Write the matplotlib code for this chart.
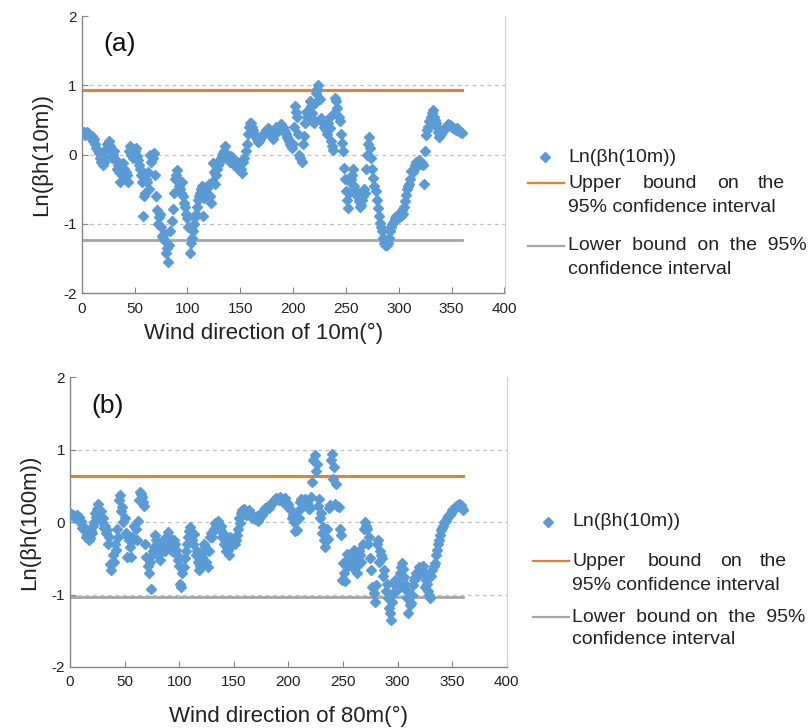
import matplotlib
matplotlib.use("Agg")
import matplotlib.pyplot as plt
from matplotlib.lines import Line2D

plt.rcParams['font.family'] = ['Liberation Sans', 'DejaVu Sans']
plt.rcParams['axes.unicode_minus'] = False

# ---------------- data ----------------
directions_even = list(range(0, 361, 2))
directions_odd = list(range(1, 360, 2))

ln_beta_10m_even = [
    0.33, 0.32, 0.30, 0.31, 0.28, 0.27, 0.22, 0.10, 0.02, -0.10,
    -0.15, -0.05, 0.15, 0.20, 0.05, 0.00, -0.08, -0.15, -0.40, -0.30,
    -0.20, -0.25, -0.40, 0.12, 0.08, 0.05, -0.02, -0.15, -0.30, -0.88,
    -0.55, -0.40, -0.50, -0.10, 0.02, -0.60, -1.00, -0.85, -1.18, -1.15,
    -1.42, -1.55, -1.10, -0.78, -0.35, -0.22, -0.45, -0.55, -0.60, -0.75,
    -0.92, -1.42, -1.20, -1.00, -0.85, -0.65, -0.55, -0.45, -0.62, -0.50,
    -0.43, -0.70, -0.12, -0.43, -0.20, -0.12, -0.05, 0.02, 0.12, -0.05,
    -0.10, -0.05, -0.15, -0.10, -0.20, -0.12, -0.27, -0.05, 0.15, 0.40,
    0.45, 0.35, 0.29, 0.22, 0.20, 0.25, 0.30, 0.35, 0.38, 0.30,
    0.25, 0.31, 0.40, 0.35, 0.42, 0.40, 0.32, 0.25, 0.20, 0.12,
    0.15, 0.70, 0.55, 0.00, -0.10, 0.27, 0.62, 0.50, 0.77, 0.60,
    0.45, 0.89, 1.01, 0.53, 0.45, 0.38, 0.30, 0.53, 0.20, 0.07,
    0.82, 0.67, 0.48, 0.17, -0.19, -0.53, -0.77, -0.40, -0.30, -0.45,
    -0.60, -0.67, -0.72, -0.60, -0.55, 0.00, 0.26, -0.05, -0.34, -0.53,
    -0.77, -0.98, -1.10, -1.28, -1.30, -1.28, -1.10, -1.00, -0.92, -0.90,
    -0.90, -0.88, -0.85, -0.67, -0.50, -0.43, -0.24, -0.20, -0.10, -0.15,
    -0.10, -0.12, -0.43, 0.29, 0.40, 0.55, 0.65, 0.50, 0.40, 0.26,
    0.30, 0.35, 0.38, 0.42, 0.43, 0.40, 0.38, 0.36, 0.35, 0.33,
    0.31,
]
ln_beta_10m_odd = [
    0.31, 0.29, 0.33, 0.27, 0.25, 0.20, 0.15, 0.05, -0.05, -0.02,
    -0.10, 0.08, 0.10, 0.12, -0.05, 0.05, -0.20, -0.25, -0.22, -0.12,
    -0.35, -0.30, 0.05, 0.00, -0.05, 0.10, -0.08, -0.20, -0.40, -0.60,
    -0.35, -0.25, 0.00, -0.05, -0.30, -0.80, -0.90, -1.05, -1.20, -1.25,
    -1.35, -1.30, -0.95, -0.55, -0.30, -0.35, -0.50, -0.40, -0.70, -0.85,
    -1.05, -1.28, -1.10, -0.90, -0.75, -0.60, -0.50, -0.88, -0.55, -0.48,
    -0.60, -0.40, -0.25, -0.30, -0.15, -0.08, 0.00, 0.05, 0.00, -0.08,
    -0.02, -0.10, -0.08, -0.12, -0.15, -0.20, -0.10, 0.05, 0.30, 0.45,
    0.40, 0.30, 0.25, 0.18, 0.22, 0.28, 0.32, 0.33, 0.34, 0.28,
    0.22, 0.36, 0.33, 0.38, 0.44, 0.36, 0.30, 0.22, 0.16, 0.10,
    0.40, 0.62, 0.30, -0.05, 0.15, 0.45, 0.55, 0.65, 0.70, 0.52,
    0.75, 0.95, 0.80, 0.48, 0.40, 0.35, 0.45, 0.38, 0.12, 0.60,
    0.78, 0.55, 0.30, 0.05, -0.35, -0.65, -0.55, -0.35, -0.20, -0.52,
    -0.55, -0.75, -0.65, -0.50, -0.20, 0.15, 0.10, -0.20, -0.45, -0.65,
    -0.88, -1.05, -1.20, -1.30, -1.31, -1.20, -1.05, -0.95, -0.88, -0.92,
    -0.87, -0.80, -0.75, -0.58, -0.45, -0.35, -0.25, -0.15, -0.12, -0.08,
    -0.13, -0.15, 0.05, 0.35, 0.48, 0.60, 0.55, 0.45, 0.32, 0.28,
    0.33, 0.36, 0.40, 0.44, 0.42, 0.39, 0.37, 0.38, 0.34, 0.32,
]

ln_beta_80m_even = [
    0.12, 0.10, 0.08, 0.10, 0.07, 0.02, -0.05, -0.12, -0.18, -0.22,
    -0.15, 0.00, 0.07, 0.25, 0.15, 0.05, -0.05, -0.11, -0.20, -0.66,
    -0.55, -0.39, -0.20, 0.37, 0.21, 0.05, -0.48, -0.25, -0.48, -0.25,
    -0.10, 0.02, 0.42, 0.35, 0.22, -0.48, -0.71, -0.92, -0.40, -0.18,
    -0.30, -0.52, -0.40, -0.30, -0.20, -0.14, -0.25, -0.34, -0.30, -0.45,
    -0.60, -0.89, -0.62, -0.40, -0.20, -0.07, -0.25, -0.16, -0.40, -0.66,
    -0.55, -0.43, -0.35, -0.62, -0.20, -0.21, -0.10, -0.05, 0.02, -0.05,
    -0.15, -0.25, -0.35, -0.46, -0.30, -0.23, -0.25, -0.10, -0.02, 0.16,
    0.14, 0.12, 0.16, 0.10, 0.08, 0.05, 0.02, 0.07, 0.10, 0.16,
    0.18, 0.20, 0.25, 0.28, 0.30, 0.32, 0.34, 0.32, 0.30, 0.28,
    0.25, 0.16, 0.10, -0.12, -0.11, 0.05, 0.32, 0.25, 0.30, 0.23,
    0.20, 0.55, 0.92, 0.80, 0.32, 0.12, -0.07, -0.34, -0.23, 0.23,
    0.94, 0.76, 0.53, 0.21, -0.18, -0.57, -0.82, -0.44, -0.50, -0.62,
    -0.39, -0.62, -0.53, -0.45, -0.30, 0.00, -0.10, -0.21, -0.66, -0.98,
    -0.87, -0.25, -0.40, -0.50, -0.66, -0.85, -1.19, -1.35, -0.98, -0.80,
    -0.89, -0.70, -0.57, -0.76, -0.94, -1.26, -1.12, -0.87, -0.76, -0.70,
    -0.62, -0.62, -0.71, -0.80, -0.95, -1.05, -0.66, -0.57, -0.39, -0.25,
    -0.11, -0.05, 0.02, 0.08, 0.10, 0.16, 0.18, 0.22, 0.25, 0.23,
    0.16,
]
ln_beta_80m_odd = [
    0.11, 0.09, 0.06, 0.05, 0.00, -0.08, -0.10, -0.20, -0.25, -0.12,
    -0.05, 0.12, 0.18, 0.08, 0.00, -0.08, -0.15, -0.30, -0.58, -0.45,
    -0.30, -0.10, 0.30, 0.15, 0.00, -0.15, -0.20, -0.35, -0.20, -0.05,
    -0.25, 0.30, 0.38, 0.28, -0.30, -0.60, -0.55, -0.45, -0.35, -0.25,
    -0.45, -0.35, -0.25, -0.40, -0.30, -0.20, -0.40, -0.25, -0.38, -0.52,
    -0.85, -0.70, -0.50, -0.30, -0.12, -0.20, -0.30, -0.45, -0.55, -0.60,
    -0.48, -0.30, -0.55, -0.40, -0.15, -0.12, -0.02, -0.08, -0.10, -0.20,
    -0.30, -0.40, -0.38, -0.20, -0.28, -0.30, -0.18, 0.05, 0.12, 0.18,
    0.10, 0.15, 0.12, 0.06, 0.04, 0.08, 0.05, 0.12, 0.14, 0.20,
    0.22, 0.24, 0.26, 0.31, 0.33, 0.30, 0.31, 0.28, 0.33, 0.22,
    0.20, 0.05, 0.00, 0.02, 0.15, 0.28, 0.22, 0.32, 0.26, 0.18,
    0.35, 0.85, 0.70, 0.22, 0.05, -0.15, -0.25, -0.10, 0.20, 0.85,
    0.60, 0.25, 0.22, -0.10, -0.80, -0.70, -0.55, -0.60, -0.45, -0.55,
    -0.45, -0.70, -0.40, -0.55, -0.10, -0.05, -0.30, -0.50, -0.90, -1.10,
    -0.30, -0.55, -0.45, -0.75, -0.95, -1.05, -1.25, -1.10, -0.85, -0.95,
    -0.80, -0.62, -0.65, -0.85, -1.05, -1.15, -1.00, -0.80, -0.70, -0.75,
    -0.68, -0.60, -0.90, -0.85, -1.00, -0.75, -0.60, -0.45, -0.30, -0.18,
    -0.08, 0.00, 0.05, 0.10, 0.12, 0.18, 0.20, 0.23, 0.24, 0.20,
]

bound_range = [0, 360]
upper_a, lower_a = 0.93, -1.23
upper_b, lower_b = 0.63, -1.04

x_ticks = [0, 50, 100, 150, 200, 250, 300, 350, 400]
y_ticks = [-2, -1, 0, 1, 2]

BLUE = '#5B9BD5'
ORANGE = '#ED7D31'
GRAY = '#A5A5A5'
TXT = '#222222'

W, H = 809, 728
fig = plt.figure(figsize=(W / 100, H / 100), dpi=100)


def fx(x):
    return x / W


def fy(y):
    return 1 - y / H


def make_axes(rect, xs, ys, upper, lower, xlabel, ylabel, tag, tagpos, xlab_pos):
    ax = fig.add_axes(rect)
    ax.set_xlim(0, 400)
    ax.set_ylim(-2, 2)
    ax.set_xticks(x_ticks)
    ax.set_yticks(y_ticks)
    for yv in [-1, 0, 1]:
        ax.axhline(yv, color='#BFBFBF', lw=0.9, ls=(0, (3, 3)), zorder=0)
    ax.plot(xs, ys, ls='none', marker='D', ms=5.2,
            color=BLUE, mec=BLUE, zorder=3)
    ax.plot(bound_range, [upper, upper], color=ORANGE, lw=2.2, zorder=2)
    ax.plot(bound_range, [lower, lower], color=GRAY, lw=2.0, zorder=2)
    ax.spines['top'].set_visible(False)
    for s in ['left', 'bottom']:
        ax.spines[s].set_color('#868686')
        ax.spines[s].set_linewidth(1.0)
    ax.spines['right'].set_color('#D0D0D0')
    ax.tick_params(direction='in', length=4, color='#868686',
                   labelsize=11, labelcolor=TXT)
    ax.tick_params(axis='x', pad=6)
    ax.set_xlabel(xlabel, fontsize=16, color=TXT)
    ax.xaxis.set_label_coords(*xlab_pos)
    ax.set_ylabel(ylabel, fontsize=16, color=TXT, labelpad=8)
    ax.text(tagpos[0], tagpos[1], tag, fontsize=19, color='#111111',
            transform=ax.transAxes, va='center', ha='left')
    return ax


xs_a = directions_even + directions_odd
ys_a = ln_beta_10m_even + ln_beta_10m_odd
xs_b = directions_even + directions_odd
ys_b = ln_beta_80m_even + ln_beta_80m_odd

ax_a = make_axes([fx(81.7), fy(293.3), fx(504.5) - fx(81.7), fy(16) - fy(293.3)],
                 xs_a, ys_a, upper_a, lower_a,
                 'Wind direction of 10m(°)', 'Ln(βh(10m))', '(a)', (0.052, 0.9),
                 (0.43, -0.108))
ax_b = make_axes([fx(70), fy(667), fx(506.7) - fx(70), fy(377) - fy(667)],
                 xs_b, ys_b, upper_b, lower_b,
                 'Wind direction of 80m(°)', 'Ln(βh(100m))', '(b)', (0.05, 0.9),
                 (0.5, -0.134))


def words(ws, xpos, y):
    for word, xw in zip(ws, xpos):
        fig.text(fx(xw), fy(y), word, fontsize=14, va='center', ha='left',
                 color=TXT)


def legend_block(mk, xl0, xl1, ups, lower_text, y_mk, y_up, y_up2, y_lo, y_lo2, xt):
    fig.add_artist(Line2D([fx(mk)], [fy(y_mk)], transform=fig.transFigure,
                          marker='D', ms=5.2, color=BLUE, ls='none'))
    fig.text(fx(xt), fy(y_mk), 'Ln(βh(10m))', fontsize=14, va='center',
             ha='left', color=TXT)
    fig.add_artist(Line2D([fx(xl0), fx(xl1)], [fy(y_up), fy(y_up)],
                          transform=fig.transFigure, color=ORANGE, lw=1.6))
    words(['Upper', 'bound', 'on', 'the'], ups, y_up)
    fig.text(fx(xt), fy(y_up2), '95% confidence interval', fontsize=14,
             va='center', ha='left', color=TXT)
    fig.add_artist(Line2D([fx(xl0), fx(xl1)], [fy(y_lo), fy(y_lo)],
                          transform=fig.transFigure, color=GRAY, lw=1.6))
    fig.text(fx(xt), fy(y_lo), lower_text, fontsize=14,
             va='center', ha='left', color=TXT)
    fig.text(fx(xt), fy(y_lo2), 'confidence interval', fontsize=14,
             va='center', ha='left', color=TXT)


legend_block(545, 528, 564, [568, 643, 717, 758], 'Lower  bound  on  the  95%',
             157, 183, 208, 246, 270, 568)
legend_block(548, 533, 569, [573, 648, 720, 760], 'Lower  bound on  the  95%',
             522, 561, 585, 617, 640, 572)

fig.savefig('out.png', dpi=100)
